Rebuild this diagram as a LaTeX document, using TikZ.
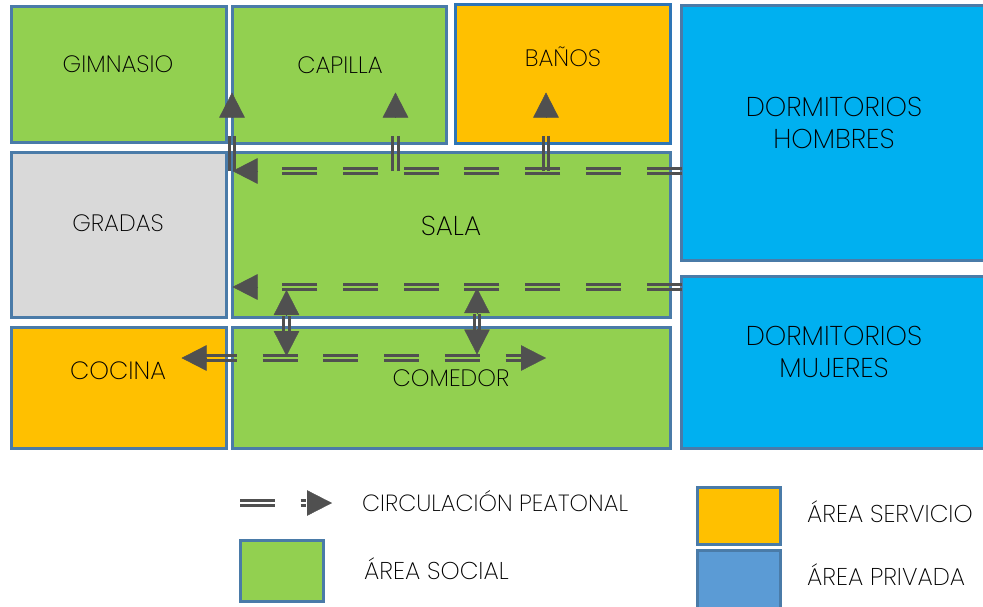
\documentclass[tikz,border=0pt]{standalone}
\usepackage{fontspec}
\setmainfont{Poppins}[UprightFont=*-ExtraLight]
\usepackage{tikz}
\usetikzlibrary{arrows.meta,positioning}

\definecolor{social}{HTML}{92D050}
\definecolor{servicio}{HTML}{FFC000}
\definecolor{privada}{HTML}{00B0F0}
\definecolor{privadakey}{HTML}{5B9BD5}
\definecolor{gradas}{HTML}{D9D9D9}
\definecolor{edgeblue}{HTML}{4A7BA8}
\definecolor{edgedeep}{HTML}{2E75B6}
\definecolor{railgray}{HTML}{505050}

\begin{document}
\begin{tikzpicture}[x=1pt,y=-1pt]
    \tikzstyle{room}=[draw=edgeblue,line width=3pt,rectangle,inner sep=0pt,outer sep=0pt]
    \tikzstyle{tag}=[inner sep=0pt,text=black,align=center,font=\fontsize{23.7}{32}\selectfont]
    \tikzstyle{bigtag}=[tag,font=\fontsize{27.2}{32}\selectfont]
    \tikzstyle{keytag}=[tag,font=\fontsize{24.3}{26}\selectfont]
    \tikzstyle{rail}=[draw=railgray,line width=2.9pt,dash pattern=on 35pt off 25.7pt]
    \tikzstyle{railA}=[rail,transform canvas={yshift=2.8pt}]
    \tikzstyle{railB}=[rail,transform canvas={yshift=-2.8pt}]
    \tikzstyle{railC}=[rail,transform canvas={xshift=2.8pt}]
    \tikzstyle{railD}=[rail,transform canvas={xshift=-2.8pt}]
    \tikzstyle{head}=[draw=railgray,fill=railgray,line width=.4pt,-{Triangle[length=25pt,width=25.5pt]}]
    \path[use as bounding box,clip] (0,0) rectangle (983,606);

    % rooms
    \node[room,fill=social,minimum width=215pt,minimum height=136pt] (gimnasio) at (118.5,74.5) {};
    \node[room,fill=social,minimum width=214pt,minimum height=137pt] (capilla) at (339.5,75) {};
    \node[room,fill=servicio,draw=edgedeep,minimum width=215pt,minimum height=139pt] (banos) at (563,74) {};
    \node[room,fill=privada,minimum width=305pt,minimum height=255pt] (dormh) at (834,133) {};
    \node[room,fill=gradas,minimum width=215pt,minimum height=165pt] (grad) at (118.5,235) {};
    \node[room,fill=social,minimum width=438pt,minimum height=165pt] (sala) at (451.5,235) {};
    \node[room,fill=servicio,minimum width=215pt,minimum height=121pt] (cocina) at (118.5,388) {};
    \node[room,fill=social,minimum width=438pt,minimum height=121pt] (comedor) at (451.5,388) {};
    \node[room,fill=privada,minimum width=305pt,minimum height=172pt] (dormm) at (834,362.5) {};

    \node[tag] (tgimnasio) at (118,64) {GIMNASIO};
    \node[tag] (tcapilla) at (340,65) {CAPILLA};
    \node[tag] (tbanos) at (563,57) {BAÑOS};
    \node[tag] (tgradas) at (118,223) {GRADAS};
    \node[bigtag] (tsala) at (451,226) {SALA};
    \node[tag,font=\fontsize{25}{32}\selectfont] (tcocina) at (118,371) {COCINA};
    \node[tag] (tcomedor) at (451,378) {COMEDOR};
    \node[bigtag] (tdormh) at (834,122.5) {DORMITORIOS\\HOMBRES};
    \node[bigtag] (tdormm) at (834,352) {DORMITORIOS\\MUJERES};

    % corridors
    \coordinate (alta) at (259,171);
    \coordinate (baja) at (259,287);
    \coordinate (gimup) at (232,118);
    \coordinate (capup) at (395.5,118);
    \coordinate (banup) at (546,118);

    \path (dormh.west |- 0,171) edge[railA] (alta) edge[railB] (alta);
    \path (dormh.west |- 0,287) edge[railA] (baja) edge[railB] (baja);
    \path (232,171) edge[railC] (gimup) edge[railD] (gimup);
    \path (395.5,171) edge[railC] (capup) edge[railD] (capup);
    \path (546,171) edge[railC] (banup) edge[railD] (banup);
    \path (286.5,316) edge[railC] (286.5,331) edge[railD] (286.5,331);
    \path (477,314) edge[railC] (477,330) edge[railD] (477,330);
    \path (202,358) edge[railA] (525,358) edge[railB] (525,358);

    \path (258.2,171) edge[head] (sala.west |- 0,171);
    \path (258.2,287) edge[head] (sala.west |- 0,287);
    \path (232,117.7) edge[head] (232,92.5);
    \path (395.5,117.7) edge[head] (395.5,92.5);
    \path (546,117.7) edge[head] (546,92.5);
    \path (286.5,315.2) edge[head] (286.5,290);
    \path (286.5,330.8) edge[head] (286.5,356);
    \path (477,313.2) edge[head] (477,288);
    \path (477,329.3) edge[head] (477,354.5);
    \path (206.7,358) edge[head] (181.5,358);
    \path (520.8,358) edge[head] (546,358);

    % legend
    \node[room,fill=social,minimum width=83pt,minimum height=61pt] (keysocial) at (282,571) {};
    \node[room,fill=servicio,minimum width=83pt,minimum height=57pt] (keyservicio) at (739,516) {};
    \node[room,fill=privadakey,minimum width=83pt,minimum height=61pt] (keyprivada) at (739,581) {};

    \coordinate (keya) at (240,503);
    \coordinate (keyb) at (306,503);
    \path (keya) edge[railA] (keyb) edge[railB] (keyb);
    \path (306.8,503) edge[head] (332,503);

    \node[keytag,anchor=west,font=\fontsize{23.4}{26}\selectfont] (tcirc) at (362,501) {CIRCULACIÓN PEATONAL};
    \node[keytag,anchor=west] (tsocial) at (364,569) {ÁREA SOCIAL};
    \node[keytag,anchor=west] (tservicio) at (807,512) {ÁREA SERVICIO};
    \node[keytag,anchor=west] (tprivada) at (807,575) {ÁREA PRIVADA};
\end{tikzpicture}
\end{document}
